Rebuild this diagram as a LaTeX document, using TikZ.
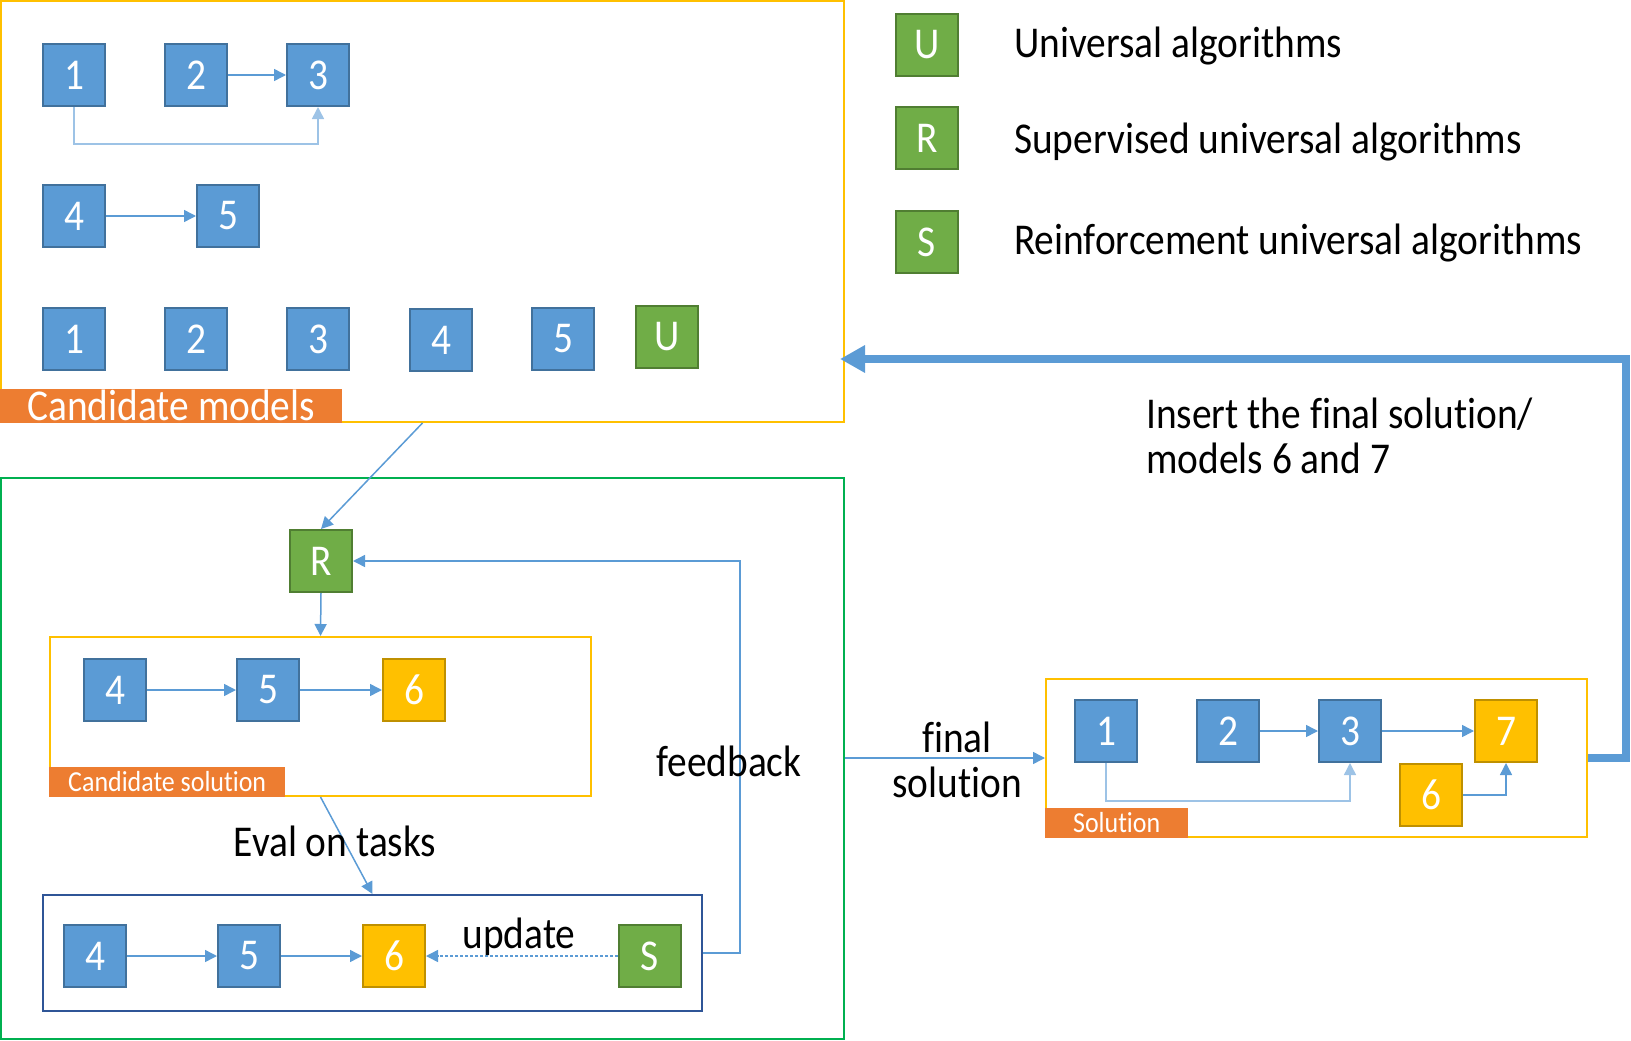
\documentclass[tikz,border=0pt]{standalone}
\usepackage{fontspec}
\setmainfont{Carlito}[FakeStretch=0.895, Ligatures=NoCommon]
\usetikzlibrary{arrows.meta,positioning}

\definecolor{boxblue}{HTML}{5B9BD5}
\definecolor{blueedge}{HTML}{41719C}
\definecolor{boxgreen}{HTML}{70AD47}
\definecolor{greenedge}{HTML}{507E32}
\definecolor{boxgold}{HTML}{FFC000}
\definecolor{goldedge}{HTML}{BF9000}
\definecolor{tagorange}{HTML}{ED7D31}
\definecolor{framegreen}{HTML}{00B050}
\definecolor{framenavy}{HTML}{2F5597}
\definecolor{loopblue}{HTML}{9DC3E6}

\begin{document}
\begin{tikzpicture}[x=1pt, y=-1pt, font=\fontsize{44}{44}\selectfont,
  blk/.style={draw=blueedge, fill=boxblue, line width=2pt, text=white, minimum size=62pt, inner sep=0pt},
  grn/.style={blk, draw=greenedge, fill=boxgreen},
  gld/.style={blk, draw=goldedge, fill=boxgold},
  frame/.style={line width=2pt, inner sep=0pt},
  tag/.style={fill=tagorange, text=white, inner sep=0pt, anchor=south west},
  small/.style={font=\fontsize{29}{29}\selectfont},
  link/.style={draw=boxblue, line width=1.5pt, -{Triangle[length=12pt,width=12pt]}},
]
\useasboundingbox (0,0) rectangle (1631,1041);

% Candidate models
\node[frame, draw=boxgold, minimum width=843pt, minimum height=421pt] (cand) at (422.5,211.5) {};
\node[blk] (a1) at (74,75) {1};
\node[blk] (a2) at (196,75) {2};
\node[blk] (a3) at (318,75) {3};
\draw[link] (a2) -- (a3);
\draw[link, draw=loopblue] (a1.south) -- ++(0,37) -| (a3.south);
\node[blk] (a4) at (74,216) {4};
\node[blk] (a5) at (228,216) {5};
\draw[link] (a4) -- (a5);
\node[blk] (m1) at (74,339) {1};
\node[blk] (m2) at (196,339) {2};
\node[blk] (m3) at (318,339) {3};
\node[blk] (m4) at (441,340) {4};
\node[blk] (m5) at (563,339) {5};
\node[grn] (mu) at (667,337) {U};
\node[tag, minimum width=342pt, minimum height=34pt] (candtag) at (cand.south west) {Candidate models};

% Legend
\node[grn] (lu) at (927,45) {U};
\node[grn] (lr) at (927,138) {R};
\node[grn] (ls) at (927,242) {S};
\node[anchor=base west, inner sep=0pt] (lut) at (1014,58) {Universal algorithms};
\node[anchor=base west, inner sep=0pt] (lrt) at (1014,153) {Supervised universal algorithms};
\node[anchor=base west, inner sep=0pt] (lst) at (1014,254) {Reinforcement universal algorithms};

% Search loop
\node[frame, draw=framegreen, minimum width=843pt, minimum height=561pt] (loop) at (422.5,758) {};
\node[grn] (r) at (321,561) {R};
\draw[link] (cand.south) -- (r.north);
\node[frame, draw=boxgold, minimum width=541pt, minimum height=159pt] (csol) at (320.5,716.5) {};
\draw[link] (r.south) -- (csol.north);
\node[blk] (c4) at (115,690) {4};
\node[blk] (c5) at (268,690) {5};
\node[gld] (c6) at (414,690) {6};
\draw[link] (c4) -- (c5);
\draw[link] (c5) -- (c6);
\node[tag, small, minimum width=236pt, minimum height=30pt] (csoltag) at (csol.south west) {Candidate solution};

\node[frame, draw=framenavy, minimum width=659pt, minimum height=116pt] (evalbox) at (372.5,953) {};
\draw[link] (csol.south) -- (evalbox.north);
\node[anchor=base, inner sep=0pt] (evaltxt) at (335,856) {Eval on tasks};
\node[blk] (e4) at (95,956) {4};
\node[blk] (e5) at (249,956) {5};
\node[gld] (e6) at (394,956) {6};
\node[grn] (es) at (650,956) {S};
\draw[link] (e4) -- (e5);
\draw[link] (e5) -- (e6);
\draw[link, densely dashed] (es) -- (e6);
\node[anchor=base, inner sep=0pt] (updtxt) at (519,948) {update};

\coordinate (fb) at (740,561);
\draw[link] (evalbox.east) -| (fb) -- (r.east);
\node[anchor=base, inner sep=0pt] (fbtxt) at (729,776) {feedback};

% Solution
\node[frame, draw=boxgold, minimum width=541pt, minimum height=158pt] (sol) at (1316.5,758) {};
\draw[link] (loop.east) -- (sol.west);
\node[anchor=base, inner sep=0pt] (fin1) at (957,752) {final};
\node[anchor=base, inner sep=0pt] (fin2) at (957,797) {solution};
\node[blk] (s1) at (1106,731) {1};
\node[blk] (s2) at (1228,731) {2};
\node[blk] (s3) at (1350,731) {3};
\node[gld] (s7) at (1506,731) {7};
\node[gld] (s6) at (1431,795) {6};
\draw[link] (s2) -- (s3);
\draw[link] (s3) -- (s7);
\draw[link, draw=loopblue] (s1.south) -- ++(0,38) -| (s3.south);
\draw[link] (s6.east) -| (s7.south);
\node[tag, small, minimum width=143pt, minimum height=30pt] (soltag) at (sol.south west) {Solution};

% Back to the pool
\coordinate (back) at (1626,359);
\draw[draw=boxblue, line width=8.5pt, -{Triangle[length=25pt,width=26pt]}, shorten >=-5pt] (sol.east) -| (back) -- (back -| cand.east);
\node[anchor=base west, inner sep=0pt] (ins1) at (1146,428) {Insert the final solution/};
\node[anchor=base west, inner sep=0pt] (ins2) at (1146,473) {models 6 and 7};
\end{tikzpicture}
\end{document}
